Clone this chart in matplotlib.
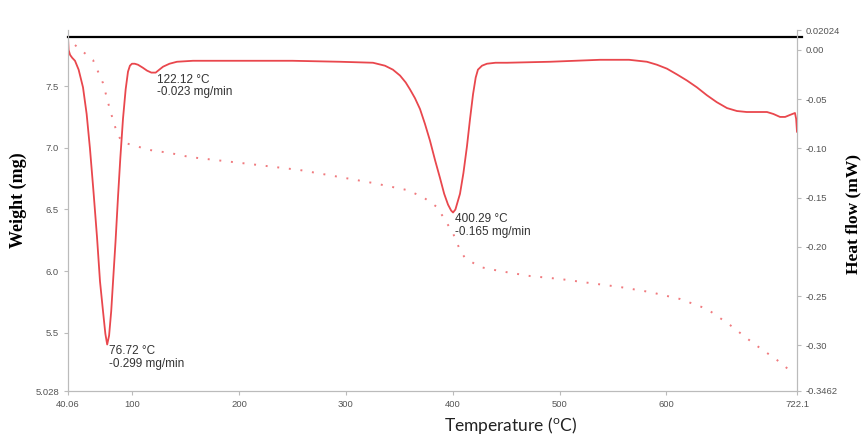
import matplotlib.pyplot as plt
import numpy as np

plt.rcParams['mathtext.default'] = 'regular'

# DTG curve (right axis), temperature in C, rate in mg/min
T_dtg = [40.06, 40.6, 42.0, 44.0, 46.6, 50.0, 54.1, 57.5, 60.6, 64.0, 67.2, 70.0, 72.8,
         75.0, 76.72, 78.5, 80.5, 82.2, 84.5, 86.8, 89.0, 91.5, 94.0, 96.2, 98.0,
         99.9, 102.5, 105.5, 110.0, 114.0, 118.0, 122.12, 125.5, 129.0, 135.0, 142.0,
         157.0, 200.0, 250.0, 294.5, 325.4, 336.6, 344.0, 350.7, 356.0, 360.0, 364.7,
         369.4, 374.0, 378.7, 383.5, 388.1, 392.0, 395.6, 398.5, 400.29, 402.5, 406.8,
         410.0, 413.3, 416.2, 419.0, 421.5, 423.6, 427.4, 432.0, 440.0, 450.8, 491.0,
         537.8, 565.0, 581.7, 591.0, 600.4, 610.0, 619.1, 628.5, 637.8, 647.0, 656.6,
         665.9, 675.0, 684.6, 694.0, 700.0, 706.2, 711.0, 715.5, 720.2, 721.3, 722.1]
dtg = [0.013, 0.000, -0.005, -0.008, -0.011, -0.020, -0.038, -0.065, -0.100, -0.145,
       -0.190, -0.235, -0.265, -0.288, -0.299, -0.290, -0.265, -0.235, -0.195, -0.150,
       -0.110, -0.070, -0.040, -0.022, -0.016, -0.014, -0.014, -0.015, -0.018, -0.021,
       -0.023, -0.023, -0.020, -0.017, -0.014, -0.012, -0.011, -0.011, -0.011, -0.012,
       -0.013, -0.016, -0.020, -0.026, -0.033, -0.040, -0.049, -0.060, -0.075, -0.092,
       -0.112, -0.130, -0.146, -0.157, -0.163, -0.165, -0.162, -0.146, -0.125, -0.098,
       -0.070, -0.045, -0.028, -0.020, -0.016, -0.014, -0.013, -0.013, -0.012, -0.010,
       -0.010, -0.012, -0.015, -0.019, -0.025, -0.031, -0.038, -0.046, -0.053, -0.059,
       -0.062, -0.063, -0.063, -0.063, -0.065, -0.068, -0.068, -0.066, -0.064, -0.070,
       -0.083]

# weight curve (left axis), mg
T_w = [46.6, 63.5, 72.8, 79.4, 85.9, 90.6, 100.0, 116.8, 135.5, 154.2, 210.0, 257.0,
       294.5, 325.4, 357.2, 372.2, 385.3, 392.8, 400.2, 406.8, 411.5, 425.5, 444.2,
       472.3, 500.3, 528.4, 556.5, 584.5, 612.6, 637.9, 659.4, 680.9, 703.4, 718.3]
weight = [7.832, 7.710, 7.524, 7.305, 7.119, 7.046, 7.022, 6.981, 6.957, 6.924, 6.868,
          6.819, 6.762, 6.714, 6.657, 6.600, 6.519, 6.414, 6.308, 6.171, 6.106, 6.033,
          6.000, 5.960, 5.936, 5.903, 5.871, 5.830, 5.774, 5.693, 5.563, 5.417, 5.279,
          5.174]

# peak labels
peak_T = [76.72, 122.12, 400.29]
peak_rate = [-0.299, -0.023, -0.165]

x_ticks = [40.06, 100, 200, 300, 400, 500, 600, 722.1]
x_labels = ['40.06', '100', '200', '300', '400', '500', '600', '722.1']
w_ticks = [5.028, 5.5, 6.0, 6.5, 7.0, 7.5]
w_labels = ['5.028', '5.5', '6.0', '6.5', '7.0', '7.5']
h_ticks = [-0.3462, -0.30, -0.25, -0.20, -0.15, -0.10, -0.05, 0.00, 0.02024]
h_labels = ['-0.3462', '-0.30', '-0.25', '-0.20', '-0.15', '-0.10', '-0.05', '0.00', '0.02024']

gray = '#bbbbbb'
tcol = '#555555'
red = '#e9474d'

fig = plt.figure(figsize=(8.65, 4.34), dpi=100)
ax = fig.add_axes([68/865, 1-391/434, 729/865, 361/434])
ax2 = ax.twinx()

ax.plot(T_w, weight, color='#f07a7e', linewidth=1.4, linestyle=(0, (1, 5)))
ax2.plot(T_dtg, dtg, color=red, linewidth=1.3)

for t, r in zip(peak_T, peak_rate):
    ax2.text(t + 1.5, r - 0.001, '%.2f °C\n%.3f mg/min' % (t, r), fontsize=8.5,
             family='Liberation Sans', color='#333333', va='top', ha='left',
             linespacing=1.05)

ax.set_xlim(40.06, 722.1)
ax.set_ylim(5.028, 7.954)
ax2.set_ylim(-0.3462, 0.02024)

# black line along the top
ax.plot([0, 1.007], [0.9806, 0.9806], transform=ax.transAxes, color='black',
        linewidth=1.6, clip_on=False)

ax.set_xticks(x_ticks)
ax.set_xticklabels(x_labels)
ax.set_yticks(w_ticks)
ax.set_yticklabels(w_labels)
ax2.set_yticks(h_ticks)
ax2.set_yticklabels(h_labels)

for a in (ax, ax2):
    for s in a.spines.values():
        s.set_color(gray)
        s.set_linewidth(0.8)
    a.spines['top'].set_visible(False)
    a.tick_params(colors=gray, labelcolor=tcol, labelsize=6.8, length=3, width=0.8)
    for lab in a.get_xticklabels() + a.get_yticklabels():
        lab.set_family('Liberation Sans')

fig.text(18/865, 1-200/434, 'Weight (mg)', rotation=90, ha='center', va='center',
         family='Liberation Serif', fontweight='bold', fontsize=13)
fig.text(853/865, 1-214/434, 'Heat flow (mW)', rotation=90, ha='center', va='center',
         family='Liberation Serif', fontweight='bold', fontsize=12.5)
fig.text(511/865, 1-425/434, 'Temperature ($^{o}$C)', ha='center', va='center',
         family='Lato', fontsize=12.5, color='#222222')

plt.savefig('out.png', dpi=100)
